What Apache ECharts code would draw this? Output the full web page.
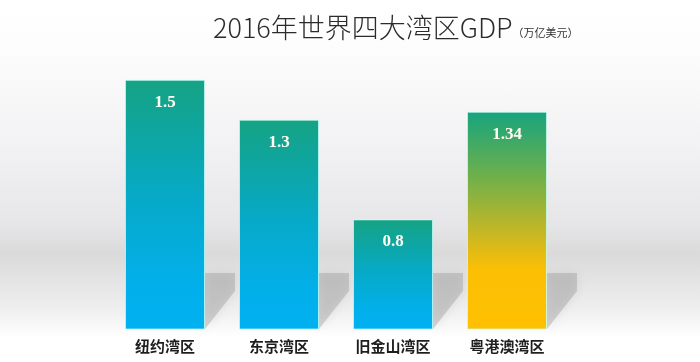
<!DOCTYPE html>
<html>
<head>
<meta charset="utf-8">
<script src="https://cdn.jsdelivr.net/npm/echarts@6/dist/echarts.min.js"></script>
<style>
html,body{margin:0;padding:0;}
#c{width:700px;height:362px;background:linear-gradient(to bottom,#ffffff 0%,#fdfdfd 12%,#f2f2f4 40%,#e6e6e8 62%,#dadada 70%,#e2e2e2 76%,#eeeeee 85%,#f8f8f8 90%,#ffffff 93%,#ffffff 100%);}
</style>
</head>
<body>
<div id="c"></div>
<script>
const categories = ['纽约湾区', '东京湾区', '旧金山湾区', '粤港澳湾区'];
const gdpValues = [1.5, 1.3, 0.8, 1.34];
const titleMain = '2016年世界四大湾区GDP';
const titleUnit = '（万亿美元）';

const AXIS_MIN = 0.25, AXIS_MAX = 1.7;
const BAR_W = 80;

const blueGrad = {type:'linear',x:0,y:0,x2:0,y2:1,colorStops:[
  {offset:0,color:'#15a383'},{offset:0.45,color:'#07a9c4'},{offset:0.8,color:'#02afe9'},{offset:1,color:'#00b1f1'}]};
const yellowGrad = {type:'linear',x:0,y:0,x2:0,y2:1,colorStops:[
  {offset:0,color:'#17a47e'},{offset:0.3,color:'#6fb04a'},{offset:0.55,color:'#c4b726'},{offset:0.72,color:'#fbbf05'},{offset:1,color:'#ffc000'}]};

const chart = echarts.init(document.getElementById('c'), null, {renderer:'canvas'});
chart.setOption({
  animation:false,
  title:{
    left:208, top:9,
    text:'{a|'+titleMain+'}{b|'+titleUnit+'}',
    textStyle:{rich:{
      a:{fontFamily:'"Noto Sans CJK SC", sans-serif',fontWeight:300,fontSize:27,color:'#2b2b2b',verticalAlign:'bottom'},
      b:{fontFamily:'"Noto Sans CJK SC", sans-serif',fontWeight:400,fontSize:11,color:'#333',verticalAlign:'bottom',padding:[0,0,3,0]}
    }}
  },
  grid:{left:108,right:136,top:40,bottom:33},
  xAxis:{
    type:'category', data:categories,
    axisLine:{show:false}, axisTick:{show:false},
    axisLabel:{margin:10,fontSize:15,fontWeight:'bold',color:'#1e1e1e',
      fontFamily:'"Noto Sans CJK SC", serif'}
  },
  yAxis:{type:'value',min:AXIS_MIN,max:AXIS_MAX,show:false,splitLine:{show:false}},
  series:[
    {
      type:'custom', z:1, silent:true,
      data: categories.map((c,i)=>[i]),
      renderItem:function(params, api){
        const p = api.coord([api.value(0), AXIS_MIN]);
        const r = p[0] + BAR_W/2, b = p[1];
        return {type:'polygon', shape:{points:[[r,b-56],[r+30,b-56],[r+30,b-38],[r,b]]},
          style:{fill:'rgba(150,150,150,0.38)',shadowBlur:10,shadowColor:'rgba(150,150,150,0.5)'}};
      }
    },
    {
      type:'bar', z:2, barWidth:BAR_W,
      data: gdpValues.map((v,i)=>({value:v,itemStyle:{color: i===3 ? yellowGrad : blueGrad}})),
      itemStyle:{borderColor:'rgba(200,255,250,0.7)',borderWidth:1},
      label:{show:true,position:'insideTop',distance:14,color:'#fffdf0',fontSize:17,fontWeight:'bold',
        fontFamily:'"Liberation Serif", "DejaVu Serif", serif'}
    }
  ]
});
</script>
</body>
</html>
